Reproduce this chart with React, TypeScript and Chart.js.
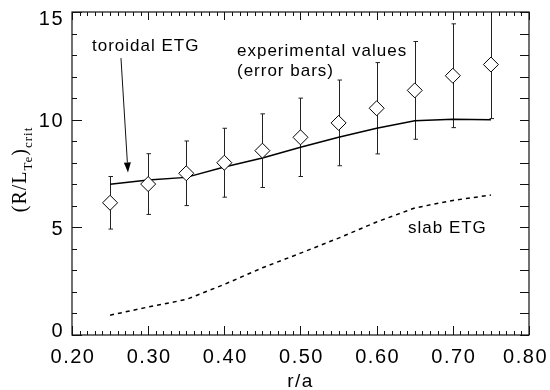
import React, { useEffect, useRef } from 'react';
import { Chart, registerables } from 'chart.js';

Chart.register(...registerables);

// ---- data ----
const rValues = [0.25, 0.3, 0.35, 0.4, 0.45, 0.5, 0.55, 0.6, 0.65, 0.7, 0.75];
const experimental = [6.14, 7.01, 7.51, 8.0, 8.56, 9.18, 9.85, 10.53, 11.36, 12.04, 12.56];
const expError = [1.22, 1.41, 1.5, 1.6, 1.71, 1.82, 1.99, 2.12, 2.27, 2.41, 2.51];
const toroidalETG = [7.0, 7.2, 7.32, 7.8, 8.22, 8.72, 9.18, 9.6, 9.95, 10.02, 10.0];
const slabETG = [0.92, 1.3, 1.65, 2.35, 3.12, 3.8, 4.5, 5.25, 5.9, 6.25, 6.5];

const xTickLabels = ['0.20', '0.30', '0.40', '0.50', '0.60', '0.70', '0.80'];
const yTickLabels = ['0', '5', '10', '15'];

// annotation anchors in data coordinates
const toroidalLabel = { x: 0.2263, y: 13.19, text: 'toroidal ETG' };
const arrowFrom = { x: 0.2643, y: 12.86 };
const arrowTo = { x: 0.2735, y: 7.55 };
const expLabel1 = { x: 0.4166, y: 12.96, text: 'experimental values' };
const expLabel2 = { x: 0.4166, y: 12.03, text: '(error bars)' };
const slabLabel = { x: 0.6411, y: 4.74, text: 'slab ETG' };

const SANS = '"Liberation Sans", Arial, Helvetica, sans-serif';
const SERIF = '"Liberation Serif", "Times New Roman", serif';

function setSpacing(ctx: any, v: string) {
  if ('letterSpacing' in ctx) ctx.letterSpacing = v;
}

const decor = {
  id: 'decor',
  beforeDatasetsDraw(chart: any) {
    const { ctx, chartArea: a, scales } = chart;
    const xs = scales.x;
    const ys = scales.y;
    ctx.save();
    ctx.beginPath();
    ctx.rect(a.left, a.top, a.right - a.left, a.bottom - a.top);
    ctx.clip();
    ctx.strokeStyle = '#222';
    ctx.lineWidth = 1;
    rValues.forEach((r, i) => {
      const px = Math.round(xs.getPixelForValue(r)) + 0.5;
      const top = ys.getPixelForValue(experimental[i] + expError[i]);
      const bot = ys.getPixelForValue(experimental[i] - expError[i]);
      ctx.beginPath();
      ctx.moveTo(px, top);
      ctx.lineTo(px, bot);
      ctx.moveTo(px - 2, top);
      ctx.lineTo(px + 2.5, top);
      ctx.moveTo(px - 2, bot);
      ctx.lineTo(px + 2.5, bot);
      ctx.stroke();
    });
    ctx.restore();
  },
  afterDraw(chart: any) {
    const { ctx, chartArea: a, scales } = chart;
    const xs = scales.x;
    const ys = scales.y;
    ctx.save();
    ctx.strokeStyle = '#111';
    ctx.lineWidth = 1.2;
    // frame
    ctx.strokeRect(a.left, a.top, a.right - a.left, a.bottom - a.top);
    ctx.lineWidth = 1;
    ctx.beginPath();
    // y ticks
    for (let v = 0; v <= 15; v++) {
      const py = Math.round(ys.getPixelForValue(v)) + 0.5;
      const major = v % 5 === 0;
      ctx.moveTo(a.left, py);
      ctx.lineTo(a.left + (major ? 10 : 5), py);
      ctx.moveTo(a.right, py);
      ctx.lineTo(a.right - 9, py);
    }
    // x ticks
    for (let i = 0; i <= 60; i++) {
      const v = 0.2 + i * 0.01;
      const px = Math.round(xs.getPixelForValue(v)) + 0.5;
      const major = i % 10 === 0;
      ctx.moveTo(px, a.bottom);
      ctx.lineTo(px, a.bottom - (major ? 9 : 4));
      ctx.moveTo(px, a.top);
      ctx.lineTo(px, a.top + (major ? 8 : 4));
    }
    ctx.stroke();

    ctx.fillStyle = '#000';
    // y tick labels
    ctx.font = '20px ' + SANS;
    setSpacing(ctx, '1.5px');
    ctx.textAlign = 'right';
    ctx.textBaseline = 'alphabetic';
    yTickLabels.forEach((t) => {
      const v = parseFloat(t);
      let yc = ys.getPixelForValue(v);
      yc = Math.min(Math.max(yc, a.top + 6), a.bottom - 5);
      ctx.fillText(t, a.left - 8, yc + 7.2);
    });
    // x tick labels
    ctx.textAlign = 'center';
    xTickLabels.forEach((t) => {
      const v = parseFloat(t);
      let xc = xs.getPixelForValue(v);
      const w = ctx.measureText(t).width;
      xc = Math.min(xc, chart.width - 3 - w / 2);
      ctx.fillText(t, xc + 1, a.bottom + 28);
    });
    // x title
    ctx.font = '19px ' + SANS;
    ctx.fillText('r/a', (a.left + a.right) / 2, 387);

    // annotations
    ctx.font = '17px ' + SANS;
    setSpacing(ctx, '1px');
    ctx.textAlign = 'left';
    [toroidalLabel, expLabel1, expLabel2, slabLabel].forEach((l) => {
      ctx.fillText(l.text, xs.getPixelForValue(l.x), ys.getPixelForValue(l.y));
    });

    // arrow
    const x1 = xs.getPixelForValue(arrowFrom.x);
    const y1 = ys.getPixelForValue(arrowFrom.y);
    const x2 = xs.getPixelForValue(arrowTo.x);
    const y2 = ys.getPixelForValue(arrowTo.y);
    const ang = Math.atan2(y2 - y1, x2 - x1);
    const hl = 10;
    const hw = 3.5;
    ctx.beginPath();
    ctx.moveTo(x1, y1);
    ctx.lineTo(x2 - hl * Math.cos(ang), y2 - hl * Math.sin(ang));
    ctx.stroke();
    ctx.beginPath();
    ctx.moveTo(x2, y2);
    ctx.lineTo(x2 - hl * Math.cos(ang) + hw * Math.sin(ang), y2 - hl * Math.sin(ang) - hw * Math.cos(ang));
    ctx.lineTo(x2 - hl * Math.cos(ang) - hw * Math.sin(ang), y2 - hl * Math.sin(ang) + hw * Math.cos(ang));
    ctx.closePath();
    ctx.fill();

    // y title: (R/L_Te)_crit rotated
    const parts = [
      { t: '(R/L', sub: false },
      { t: 'Te', sub: true },
      { t: ')', sub: false },
      { t: 'crit', sub: true },
    ];
    const mainFont = '20px ' + SERIF;
    const subFont = '13px ' + SERIF;
    let total = 0;
    parts.forEach((p) => {
      ctx.font = p.sub ? subFont : mainFont;
      total += ctx.measureText(p.t).width;
    });
    const cy = (a.top + a.bottom) / 2 - 4;
    ctx.translate(26, cy + total / 2);
    ctx.rotate(-Math.PI / 2);
    let cx = 0;
    parts.forEach((p) => {
      ctx.font = p.sub ? subFont : mainFont;
      ctx.fillText(p.t, cx, p.sub ? 6 : 0);
      cx += ctx.measureText(p.t).width;
    });
    setSpacing(ctx, '0px');
    ctx.restore();
  },
};

export default function App() {
  const ref = useRef<HTMLCanvasElement>(null);
  useEffect(() => {
    const canvas = ref.current!;
    const chart = new Chart(canvas, {
      type: 'line',
      data: {
        datasets: [
          {
            label: 'experimental values',
            data: rValues.map((r, i) => ({ x: r, y: experimental[i] })),
            showLine: false,
            pointStyle: 'rectRot',
            pointRadius: 7.5,
            pointBackgroundColor: '#fff',
            pointBorderColor: '#000',
            pointBorderWidth: 1,
          },
          {
            label: 'toroidal ETG',
            data: rValues.map((r, i) => ({ x: r, y: toroidalETG[i] })),
            borderColor: '#000',
            borderWidth: 1.5,
            pointRadius: 0,
            fill: false,
            tension: 0,
          },
          {
            label: 'slab ETG',
            data: rValues.map((r, i) => ({ x: r, y: slabETG[i] })),
            borderColor: '#000',
            borderWidth: 1.5,
            borderDash: [4, 4],
            pointRadius: 0,
            fill: false,
            tension: 0,
          },
        ],
      } as any,
      options: {
        responsive: false,
        animation: false,
        devicePixelRatio: 1,
        layout: { padding: { top: 12, right: 21, left: 0, bottom: 0 } },
        plugins: { legend: { display: false }, tooltip: { enabled: false } },
        scales: {
          x: {
            type: 'linear',
            min: 0.2,
            max: 0.8,
            grid: { display: false },
            border: { display: false },
            ticks: { display: false, stepSize: 0.1 },
            afterFit: (s: any) => {
              s.height = 55;
            },
          },
          y: {
            type: 'linear',
            min: 0,
            max: 15,
            grid: { display: false },
            border: { display: false },
            ticks: { display: false, stepSize: 5 },
            afterFit: (s: any) => {
              s.width = 72;
            },
          },
        },
      } as any,
      plugins: [decor],
    });
    return () => chart.destroy();
  }, []);
  return (
    <div style={{ position: 'fixed', left: 0, top: 0, width: 550, height: 390, background: '#fff' }}>
      <canvas ref={ref} width={550} height={390} style={{ display: 'block' }} />
    </div>
  );
}
